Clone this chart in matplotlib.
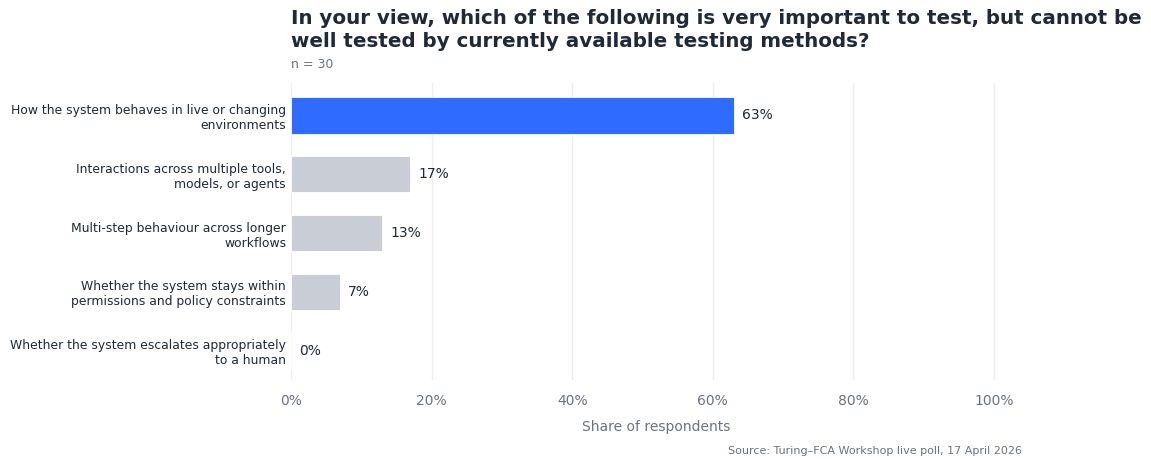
import matplotlib
matplotlib.use("Agg")
import matplotlib.pyplot as plt
from matplotlib.ticker import FuncFormatter

categories = [
    "How the system behaves in live or changing\nenvironments",
    "Interactions across multiple tools,\nmodels, or agents",
    "Multi-step behaviour across longer\nworkflows",
    "Whether the system stays within\npermissions and policy constraints",
    "Whether the system escalates appropriately\nto a human",
]
shares = [63, 17, 13, 7, 0]
highlight = [True, False, False, False, False]
ticks = [0, 20, 40, 60, 80, 100]

BLUE = "#2f6bff"
GREY = "#c9cdd6"
DARK = "#1f2937"
MUTED = "#6b7280"

fig = plt.figure(figsize=(11.51, 4.59), dpi=100)
ax = fig.add_axes([0.2528, 0.172, 0.8880 - 0.2528, 0.819 - 0.172])

ypos = list(range(len(categories)))
colors = [BLUE if h else GREY for h in highlight]
ax.barh(ypos, shares, height=0.62, color=colors, edgecolor="white",
        linewidth=0.6, zorder=3)

for y, v in zip(ypos, shares):
    ax.text(v + 1.1, y, f"{v}%", va="center", ha="left",
            fontsize=10, color=DARK, zorder=4)

ax.set_xlim(0, 104)
ax.set_ylim(4.5, -0.55)
ax.set_yticks(ypos)
ax.set_yticklabels(categories, fontsize=8.9, color=DARK)
ax.set_xticks(ticks)
ax.xaxis.set_major_formatter(FuncFormatter(lambda v, _: f"{v:.0f}%"))
ax.tick_params(axis="x", labelsize=10, labelcolor=MUTED, length=0, pad=10)
ax.tick_params(axis="y", length=0, pad=3.5)
ax.grid(axis="x", color="#eceef1", linewidth=1.0, zorder=0)
ax.grid(axis="y", visible=False)
for s in ax.spines.values():
    s.set_visible(False)

ax.set_xlabel("Share of respondents", fontsize=10, color=MUTED, labelpad=9)

fig.text(291 / 1151, 1 - 9 / 459,
         "In your view, which of the following is very important to test, but cannot be\n"
         "well tested by currently available testing methods?",
         ha="left", va="top", fontsize=14.3, fontweight="bold", color=DARK,
         linespacing=1.27)
fig.text(291 / 1151, 1 - 64 / 459, "n = 30", ha="left", va="center",
         fontsize=9, color=MUTED)
fig.text(0.888, 1 - 451 / 459,
         "Source: Turing\u2013FCA Workshop live poll, 17 April 2026",
         ha="right", va="center", fontsize=8, color=MUTED)

fig.savefig("out.png", dpi=100, facecolor="white")
